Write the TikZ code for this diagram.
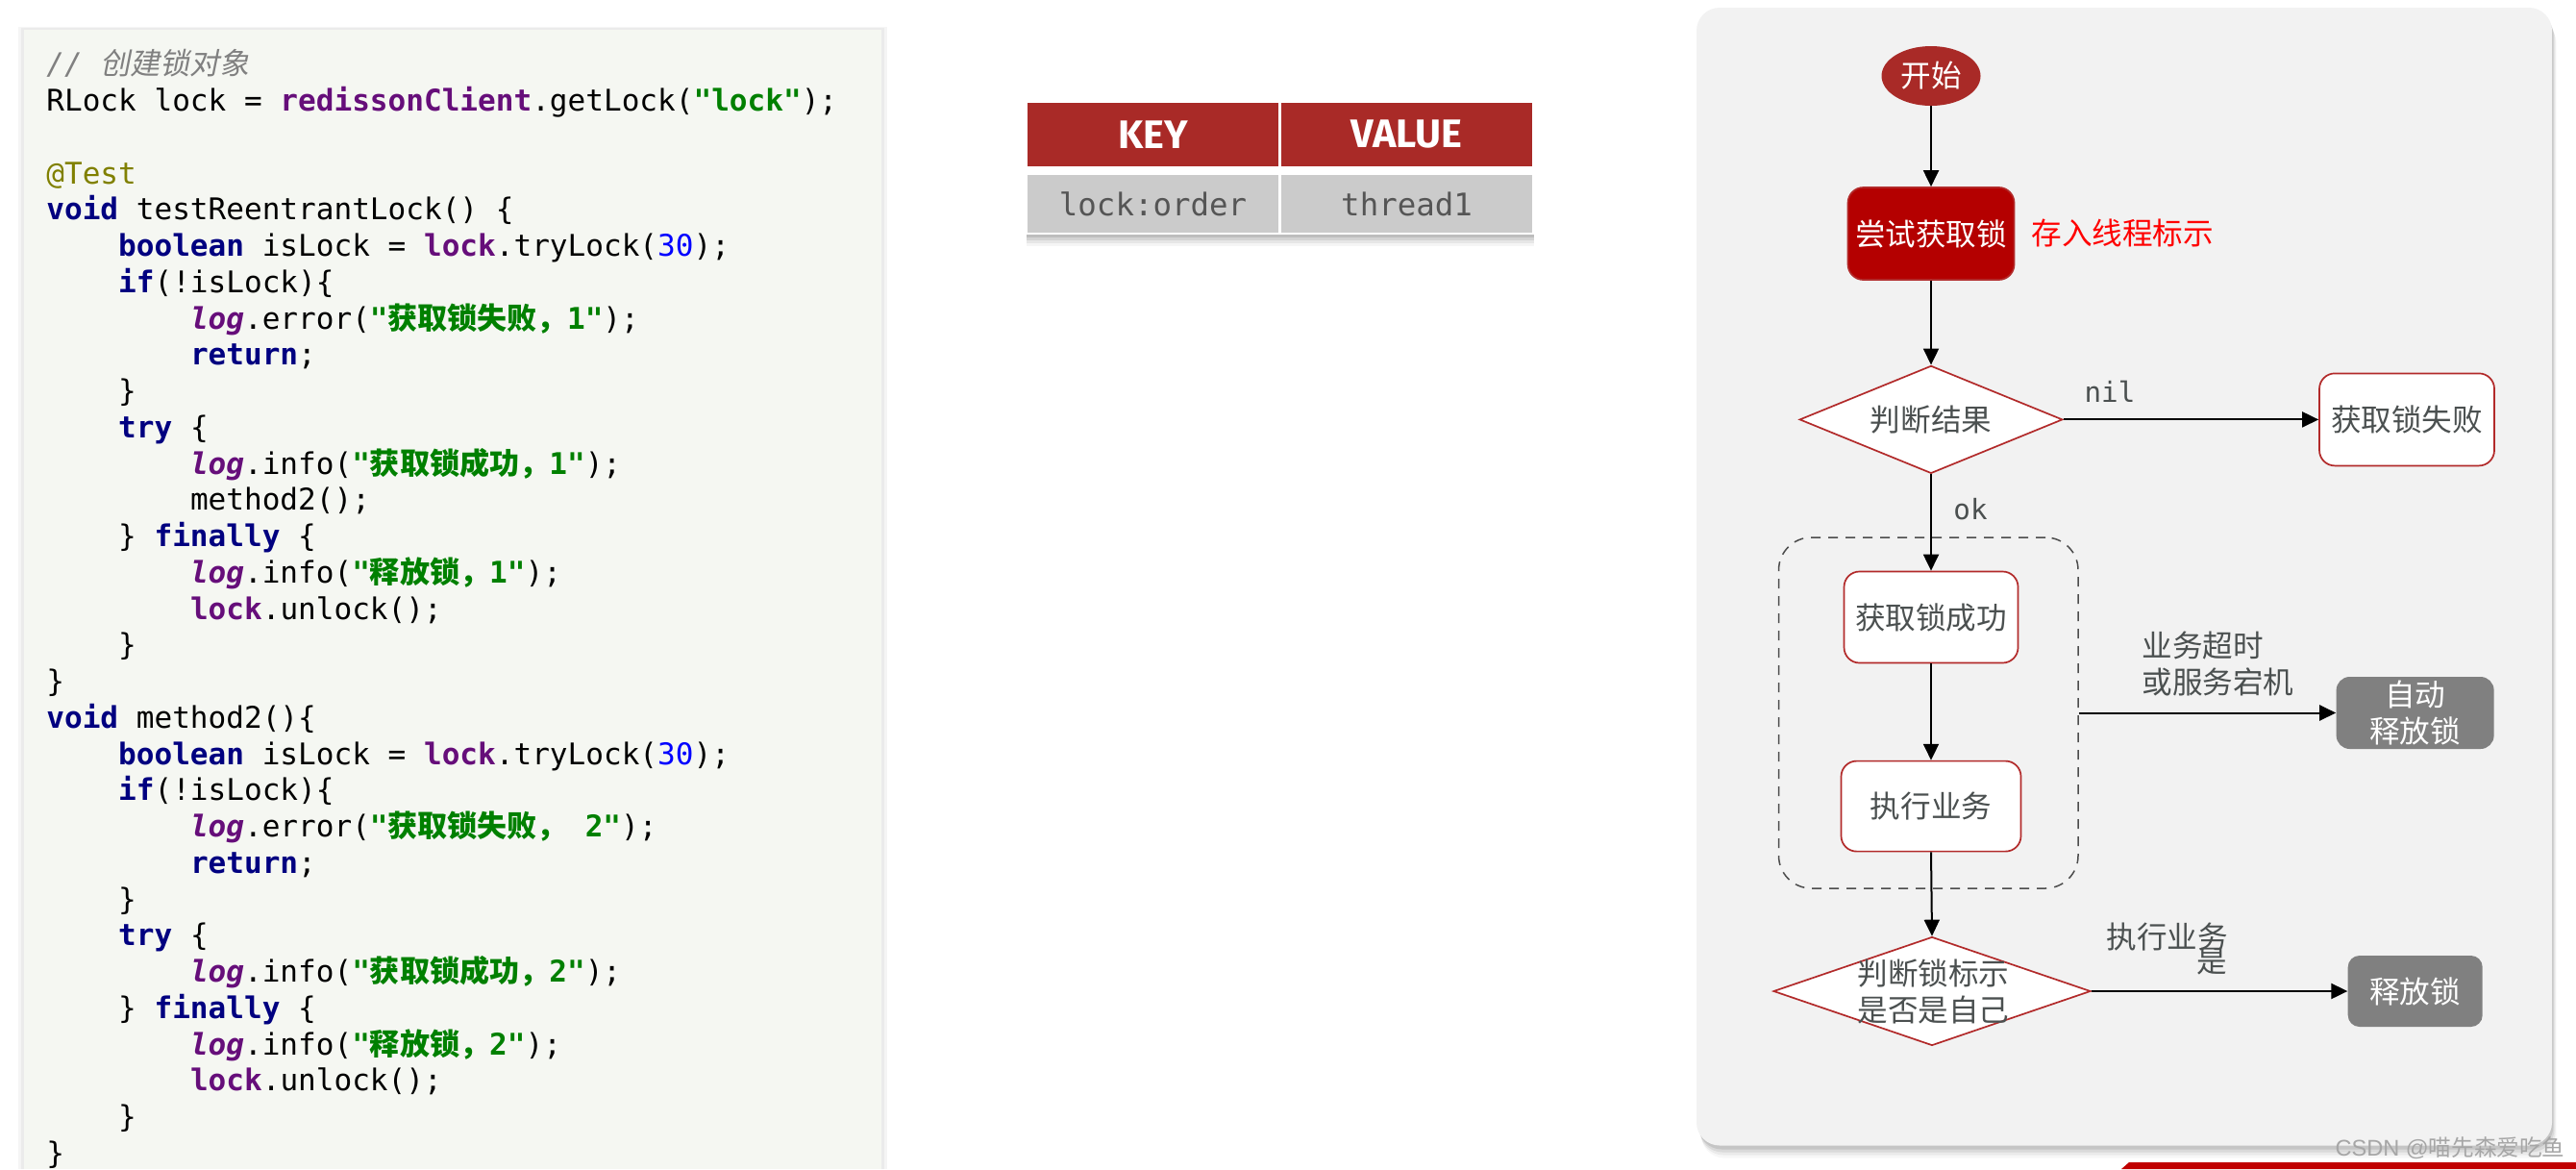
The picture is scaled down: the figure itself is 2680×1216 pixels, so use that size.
\documentclass[tikz,border=0pt]{standalone}
\usepackage{fontspec}
\setmonofont{DejaVu Sans Mono}
\newfontfamily\cjk{Noto Sans CJK SC}
\newfontfamily\cjksl[FakeSlant=0.2]{Noto Sans CJK SC}
\newfontfamily\hdrfont{Fira Sans}
\newfontfamily\wmfont{Liberation Sans}
\usetikzlibrary{shapes.geometric,arrows.meta}
\definecolor{kwblue}{HTML}{000080}
\definecolor{purp}{HTML}{660E7A}
\definecolor{strgreen}{HTML}{008000}
\definecolor{numblue}{HTML}{0000FF}
\definecolor{annot}{HTML}{808000}
\definecolor{cmtgray}{HTML}{808080}
\definecolor{codebg}{HTML}{F5F7F2}
\definecolor{hdrred}{HTML}{A92A27}
\definecolor{cellgray}{HTML}{CBCBCB}
\definecolor{cellfg}{HTML}{555555}
\definecolor{panelbg}{HTML}{F2F2F2}
\definecolor{fgray}{HTML}{4B5050}
\definecolor{boxred}{HTML}{B22A2A}
\definecolor{tryred}{HTML}{B40000}
\definecolor{boxgray}{HTML}{808080}
\definecolor{barred}{HTML}{C00000}
\newcommand\ckw[1]{{\bfseries\color{kwblue}#1}}
\newcommand\cfld[1]{{\bfseries\color{purp}#1}}
\newcommand\cstr[1]{{\bfseries\color{strgreen}#1}}
\newcommand\cnum[1]{{\color{numblue}#1}}
\newcommand\clog{{\bfseries\itshape\color{purp}log}}
\newcommand\codeline[3]{\node[codetxt] (c#1) at ({48+#2*18.7},{115.6+(#1-2)*37.75}) {#3};}
\begin{document}
\begin{tikzpicture}[x=0.5pt,y=-0.5pt,
  codetxt/.style={anchor=base west, inner sep=0pt, font=\ttfamily\fontsize{15.53pt}{18pt}\selectfont},
  ftxt/.style={font=\cjk\fontsize{15.8pt}{19pt}\selectfont, text=fgray, align=center},
  rbox/.style={ftxt, draw=boxred, line width=0.85pt, fill=white, rounded corners=8pt, inner sep=0pt},
  gbox/.style={ftxt, fill=boxgray, text=white, rounded corners=6pt, inner sep=0pt},
  dia/.style={diamond, draw=boxred, line width=0.85pt, fill=white, inner sep=0pt},
  arr/.style={draw=black, line width=1pt, -{Triangle[length=8.5pt,width=8pt]}},
  lbl/.style={inner sep=0pt, text=fgray, font=\ttfamily\fontsize{14.6pt}{17pt}\selectfont},
  hcell/.style={fill=hdrred, minimum width=130.5pt, minimum height=33pt, inner sep=0pt, text=white, font=\hdrfont\bfseries\fontsize{20.7pt}{24pt}\selectfont},
  vcell/.style={fill=cellgray, minimum width=130.5pt, minimum height=30pt, inner sep=0pt, text=cellfg, font=\ttfamily\fontsize{16.2pt}{19pt}\selectfont}
]
\useasboundingbox (0,0) rectangle (2680,1216);
\fill[white] (0,0) rectangle (2680,1216);

% ---------- code panel ----------
\fill[black!4] (19,28) rectangle (923,1216);
\fill[black!8] (22,29) rectangle (920,1216);
\fill[codebg] (25,31) rectangle (917,1216);

\codeline{1}{0}{{\color{cmtgray}\itshape // {\cjksl 创建锁对象}}}
\codeline{2}{0}{RLock lock = \cfld{redissonClient}.getLock(\cstr{"lock"});}
\codeline{4}{0}{{\color{annot}@Test}}
\codeline{5}{0}{\ckw{void} testReentrantLock() \{}
\codeline{6}{4}{\ckw{boolean} isLock = \cfld{lock}.tryLock(\cnum{30});}
\codeline{7}{4}{\ckw{if}(!isLock)\{}
\codeline{8}{8}{\clog.error(\cstr{"{\cjk 获取锁失败，}1"});}
\codeline{9}{8}{\ckw{return};}
\codeline{10}{4}{\}}
\codeline{11}{4}{\ckw{try} \{}
\codeline{12}{8}{\clog.info(\cstr{"{\cjk 获取锁成功，}1"});}
\codeline{13}{8}{method2();}
\codeline{14}{4}{\} \ckw{finally} \{}
\codeline{15}{8}{\clog.info(\cstr{"{\cjk 释放锁，}1"});}
\codeline{16}{8}{\cfld{lock}.unlock();}
\codeline{17}{4}{\}}
\codeline{18}{0}{\}}
\codeline{19}{0}{\ckw{void} method2()\{}
\codeline{20}{4}{\ckw{boolean} isLock = \cfld{lock}.tryLock(\cnum{30});}
\codeline{21}{4}{\ckw{if}(!isLock)\{}
\codeline{22}{8}{\clog.error(\cstr{"{\cjk 获取锁失败，} 2"});}
\codeline{23}{8}{\ckw{return};}
\codeline{24}{4}{\}}
\codeline{25}{4}{\ckw{try} \{}
\codeline{26}{8}{\clog.info(\cstr{"{\cjk 获取锁成功，}2"});}
\codeline{27}{4}{\} \ckw{finally} \{}
\codeline{28}{8}{\clog.info(\cstr{"{\cjk 释放锁，}2"});}
\codeline{29}{8}{\cfld{lock}.unlock();}
\codeline{30}{4}{\}}
\codeline{31}{0}{\}}

% ---------- table ----------
\foreach \d/\o in {12/0.04,9/0.06,6/0.08,3/0.1}
  \fill[black,opacity=\o] (1068,112+\d) rectangle (1596,244+\d);
\fill[white] (1066,105) rectangle (1597,244);
\node[hcell] (hkey) at (1199.5,140) {KEY};
\node[hcell] (hval) at (1463.5,140) {VALUE};
\node[vcell] (vkey) at (1199.5,212) {lock:order};
\node[vcell] (vval) at (1463.5,212) {thread1};

% ---------- flowchart panel ----------
\foreach \d/\o in {13/0.03,10/0.05,7/0.07,4/0.09}
  \fill[black,opacity=\o,rounded corners=12pt] (1766+\d*0.3,8+\d) rectangle (2655+\d*0.35,1191.5+\d);
\fill[panelbg,rounded corners=12pt] (1765,8) rectangle (2655,1191.5);

\node[draw=black!70, dashed, dash pattern=on 5pt off 4pt, line width=0.75pt, rounded corners=17pt,
      minimum width=155.75pt, minimum height=182.5pt, inner sep=0pt] (grp) at (2006.25,741.5) {};

\node[ellipse, fill=hdrred, minimum width=51.5pt, minimum height=31pt, inner sep=0pt, ftxt, text=white] (start) at (2009,79) {开始};
\node[rbox, fill=tryred, draw=boxred, text=white, minimum width=86.5pt, minimum height=48pt] (try) at (2009,243) {尝试获取锁};
\node[ftxt, text=red, anchor=west, inner sep=0pt] (note) at (2113,242) {存入线程标示};
\node[dia, ftxt, aspect=2.44, minimum width=136.8pt, minimum height=56pt] (j1) at (2009,436.4) {判断结果};
\node[rbox, minimum width=91pt, minimum height=48pt] (fail) at (2504,436.4) {获取锁失败};
\node[rbox, minimum width=90.5pt, minimum height=47.5pt] (succ) at (2009,642) {获取锁成功};
\node[rbox, minimum width=93.5pt, minimum height=47pt] (exec) at (2009,838.6) {执行业务};
\node[dia, aspect=2.92, minimum width=165pt, minimum height=56.5pt] (j2) at (2010,1031) {};
\node[ftxt, inner sep=0pt] (j2t) at (2011.5,1031.5) {判断锁标示\\是否是自己};
\node[gbox, minimum width=82pt, minimum height=37.5pt, rounded corners=7pt] (auto) at (2512.6,741.5) {自动\\释放锁};
\node[gbox, minimum width=70pt, minimum height=37pt] (rel) at (2512.7,1031) {释放锁};
\node[ftxt, anchor=west, align=left, inner sep=0pt] (tmo) at (2228,690.6) {业务超时\\或服务宕机};
\node[ftxt, anchor=west, inner sep=0pt] (exl) at (2191,975) {执行业务};
\node[ftxt, inner sep=0pt] (shi) at (2301,1000) {是};
\node[lbl] (nil) at (2195,407) {nil};
\node[lbl] (ok) at (2050,530) {ok};

\draw[arr] (start.south) -- (try.north);
\draw[arr] (try.south) -- (j1.north);
\draw[arr] (j1.east) -- (fail.west);
\draw[arr] (j1.south) -- (succ.north);
\draw[arr] (succ.south) -- (exec.north);
\draw[arr] (exec.south) -- (j2.north);
\draw[arr] (grp.east) -- (auto.west);
\draw[arr] (j2.east) -- (rel.west);

% ---------- bottom bar and watermark ----------
\fill[barred] (2207,1216) -- (2215,1209) -- (2680,1209) -- (2680,1216) -- cycle;
\node[inner sep=0pt, text=black!35, font=\fontsize{11.8pt}{14pt}\selectfont] (wm) at (2549,1194) {\wmfont CSDN @{\cjk 喵先森爱吃鱼}};
\end{tikzpicture}
\end{document}
